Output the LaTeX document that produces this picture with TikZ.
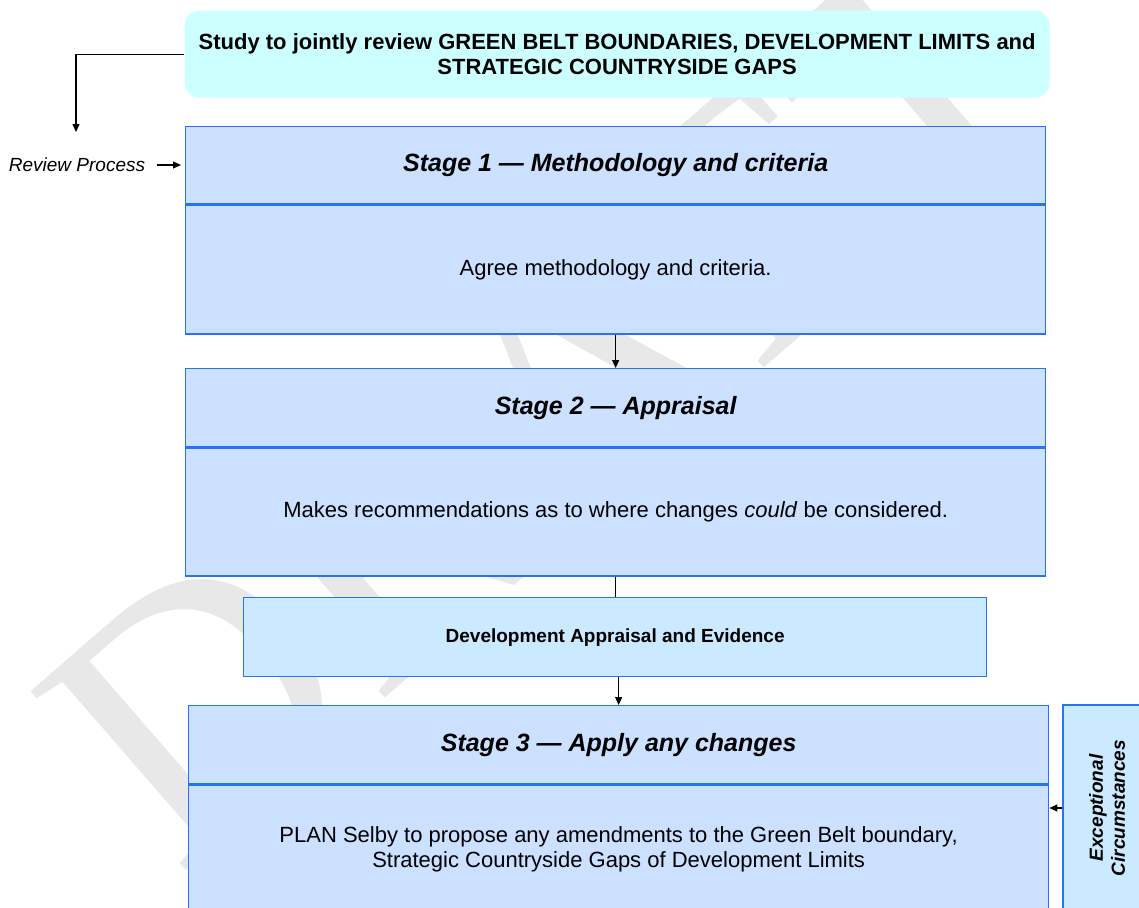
\documentclass[tikz,border=0pt]{standalone}
\usepackage{fontspec}
\setmainfont{Liberation Sans}
\newfontfamily\draftfont{Liberation Serif}
\usetikzlibrary{arrows.meta}
\definecolor{stagefill}{RGB}{204,224,255}
\definecolor{devfill}{RGB}{204,234,255}
\definecolor{topfill}{RGB}{204,255,255}
\definecolor{boxline}{RGB}{40,115,245}
\begin{document}
\begin{tikzpicture}[x=1pt,y=-1pt,
  box/.style={draw=boxline,line width=1.3pt,inner sep=0pt,anchor=north west,align=center},
  stagehead/.style={box,fill=stagefill,minimum width=860pt,minimum height=78pt,font=\fontsize{25}{30}\selectfont\bfseries\itshape},
  stagebody/.style={box,fill=stagefill,minimum width=860pt,minimum height=128pt,font=\fontsize{22}{25}\selectfont},
  flow/.style={-{Triangle[length=8pt,width=7pt]},line width=1.2pt}]
\useasboundingbox (0,0) rectangle (1139,907);
\clip (0,0) rectangle (1139,907);
% watermark
\node[anchor=base west,rotate=41,inner sep=0pt,text=black!9,font=\draftfont\fontsize{362}{362}\selectfont] (draft) at (178,878) {DRAFT};
% study
\node[box,draw=none,fill=topfill,rounded corners=15pt,minimum width=865pt,minimum height=87pt,font=\fontsize{22}{25}\selectfont\bfseries] (study) at (184,10)
  {Study to jointly review GREEN BELT BOUNDARIES, DEVELOPMENT LIMITS and\\STRATEGIC COUNTRYSIDE GAPS};
% stages
\node[stagehead,minimum height=77pt] (s1head) at (185,126) {Stage 1 — Methodology and criteria};
\node[stagebody,minimum height=129pt] (s1body) at (s1head.south west) {Agree methodology and criteria.};
\node[stagehead] (s2head) at (185,368) {Stage 2 — Appraisal};
\node[stagebody] (s2body) at (s2head.south west) {Makes recommendations as to where changes \textit{could} be considered.};
\node[box,fill=devfill,minimum width=743pt,minimum height=79pt,font=\fontsize{19}{22}\selectfont\bfseries] (dev) at (243,597) {Development Appraisal and Evidence};
\node[stagehead] (s3head) at (188,705) {Stage 3 — Apply any changes};
\node[stagebody] (s3body) at (s3head.south west)
  {PLAN Selby to propose any amendments to the Green Belt boundary,\\Strategic Countryside Gaps of Development Limits};
\node[box,anchor=center,rotate=90,fill=devfill,minimum width=206pt,minimum height=88pt,font=\fontsize{19}{22}\selectfont\bfseries\itshape] (exc) at (1107,808)
  {Exceptional\\Circumstances};
% side labels
\node[font=\fontsize{19}{22}\selectfont\itshape] (review) at (77,165) {Review Process};
\coordinate (revtip) at (76,132);
% arrows
\draw[flow] (study.west) -| (revtip);
\draw[flow,shorten <=8pt,shorten >=4pt] (review.east) -- (review.east -| s1head.west);
\draw[flow] (s1body.south) -- (s2head.north);
\draw[line width=1.2pt] (s2body.south) -- (s2body.south |- dev.north);
\draw[flow] (s3head.north |- dev.south) -- (s3head.north);
\draw[flow] (exc.north) -- (exc.north -| s3body.east);
\end{tikzpicture}
\end{document}
